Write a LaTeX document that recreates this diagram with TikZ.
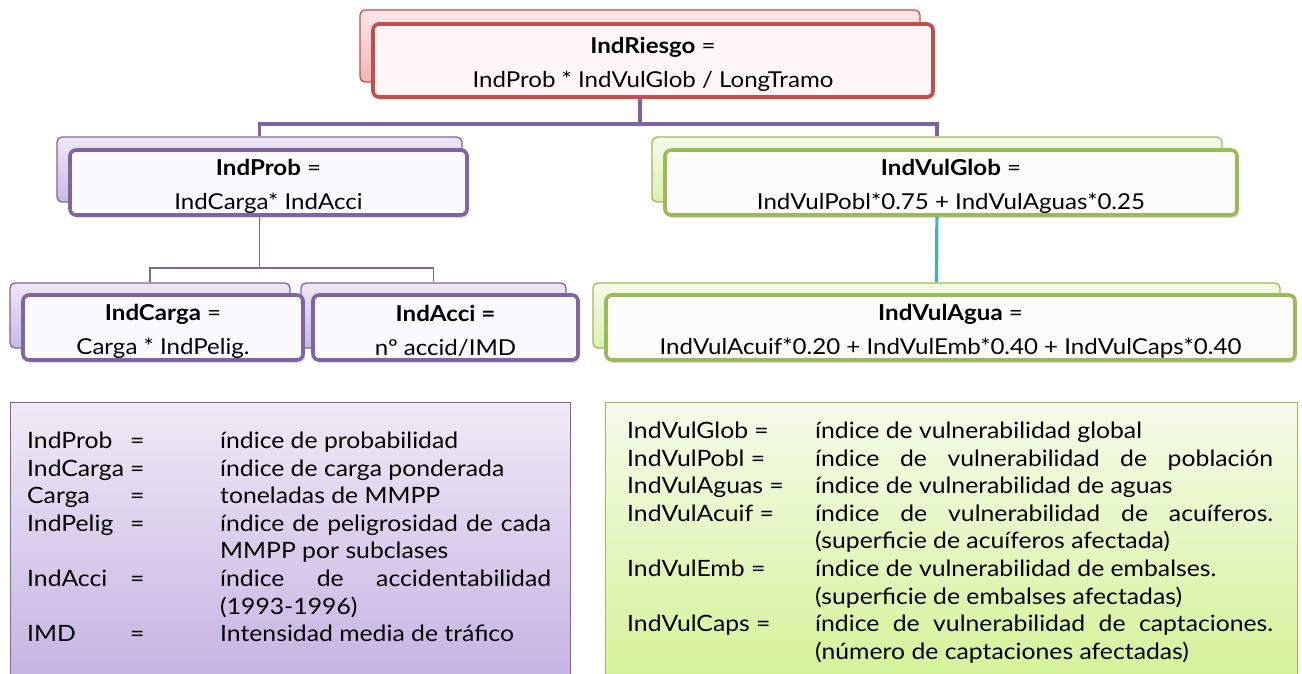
\documentclass[tikz,border=0pt]{standalone}
\usepackage{fontspec}
\setmainfont{Lato}[FakeStretch=1.1]
\usetikzlibrary{shadows,backgrounds}
\definecolor{redb}{HTML}{C0504D}
\definecolor{purb}{HTML}{8064A2}
\definecolor{grnb}{HTML}{9BBB59}
\definecolor{tealc}{HTML}{4BACC6}
\definecolor{rtop}{HTML}{FCE8E8}
\definecolor{rbot}{HTML}{F4B4B4}
\definecolor{ptop}{HTML}{EEE8F6}
\definecolor{pbot}{HTML}{C9B9E2}
\definecolor{gtop}{HTML}{F4FAE8}
\definecolor{gbot}{HTML}{DCF0B4}
\definecolor{lltop}{HTML}{EFEAF6}
\definecolor{llbot}{HTML}{C6B4E2}
\definecolor{lrtop}{HTML}{F5FBEB}
\definecolor{lrbot}{HTML}{D5F298}
\newcommand{\topstrut}{\rule{0pt}{23.5pt}}
\tikzset{
  backbox/.style={draw, line width=1.3pt, rounded corners=5pt},
  backR/.style={backbox, draw=redb, top color=rtop, bottom color=rbot},
  backP/.style={backbox, draw=purb, top color=ptop, bottom color=pbot},
  backG/.style={backbox, draw=grnb, top color=gtop, bottom color=gbot},
  frontbox/.style={draw, line width=3.6pt, rounded corners=6pt, align=center,
    font=\fontsize{21.9}{34}\selectfont, inner sep=0pt,
    drop shadow={opacity=0.25, shadow xshift=2pt, shadow yshift=-3pt}},
  frontR/.style={frontbox, draw=redb, fill=red!3!white},
  frontP/.style={frontbox, draw=purb, fill=purb!3!white},
  frontG/.style={frontbox, draw=grnb, fill=grnb!3!white},
  conn/.style={draw=purb, line width=3.2pt},
  connthin/.style={draw=purb, line width=1.6pt},
  conntl/.style={draw=tealc, line width=3.2pt},
  legL/.style={draw=purb, line width=1pt, top color=lltop, bottom color=llbot},
  legR/.style={draw=grnb, line width=1pt, top color=lrtop, bottom color=lrbot},
  legtext/.style={anchor=north west, inner sep=0pt, font=\fontsize{22.5}{27.6}\selectfont}
}
\begin{document}
\begin{tikzpicture}[x=1pt,y=-1pt]
\useasboundingbox (0,0) rectangle (1302,673);
% back boxes
\node[backR, minimum width=560pt, minimum height=72pt] (riskB) at (640,46) {};
\node[backP, minimum width=405pt, minimum height=65pt] (probB) at (259.5,169.5) {};
\node[backG, minimum width=570pt, minimum height=65pt] (globB) at (937,169.5) {};
\node[backP, minimum width=280pt, minimum height=65pt] (cargaB) at (150,315.5) {};
\node[backP, minimum width=265pt, minimum height=65pt] (acciB) at (433.5,315.5) {};
\node[backG, minimum width=687pt, minimum height=65pt] (aguaB) at (936.5,315.5) {};
% front boxes
\node[frontR, minimum width=560pt, minimum height=73pt] (risk) at (653,60.5)
  {\topstrut\textbf{IndRiesgo} =\\IndProb * IndVulGlob / LongTramo};
\node[frontP, minimum width=397pt, minimum height=65pt] (prob) at (268.5,182.5)
  {\topstrut\textbf{IndProb} =\\IndCarga* IndAcci};
\node[frontG, minimum width=572pt, minimum height=65pt] (glob) at (951,182.5)
  {\topstrut\textbf{IndVulGlob} =\\IndVulPobl*0.75 + IndVulAguas*0.25};
\node[frontP, minimum width=280pt, minimum height=65pt] (carga) at (163,327.5)
  {\topstrut\textbf{IndCarga} =\\Carga * IndPelig.};
\node[frontP, minimum width=265pt, minimum height=65pt] (acci) at (445.5,327.5)
  {\topstrut\textbf{IndAcci =}\\nº accid/IMD};
\node[frontG, minimum width=689pt, minimum height=65pt] (agua) at (950.5,327.5)
  {\topstrut\textbf{IndVulAgua} =\\IndVulAcuif*0.20 + IndVulEmb*0.40 + IndVulCaps*0.40};
% connectors
\begin{scope}[on background layer]
\coordinate (hub) at (640,124);
\draw[conn] (riskB.south) -- (hub);
\draw[conn] (hub) -| (probB.north);
\draw[conn] (hub) -| (globB.north);
\coordinate (hub2) at (259.5,268);
\draw[connthin] (probB.south) -- (hub2);
\draw[connthin] (hub2) -| (cargaB.north);
\draw[connthin] (hub2) -| (acciB.north);
\draw[conntl] (globB.south) -- (aguaB.north);
\end{scope}
% legends
\node[legL, minimum width=560pt, minimum height=275pt, anchor=north west] (legLbox) at (10,402) {};
\node[legR, minimum width=692pt, minimum height=275pt, anchor=north west] (legRbox) at (605,402) {};
\node[legtext] (legLt) at (27,429) {%
\begin{tabular}{@{}p{103pt}@{}p{90pt}@{}l@{}}
IndProb & = & índice de probabilidad\\
IndCarga & = & índice de carga ponderada\\
Carga & = & toneladas de MMPP\\
IndPelig & = & \makebox[331pt][s]{índice de peligrosidad de cada}\\
 & & MMPP por subclases\\
IndAcci & = & \makebox[331pt][s]{índice de accidentabilidad}\\
 & & (1993-1996)\\
IMD & = & Intensidad media de tráfico
\end{tabular}};
\node[legtext] (legRt) at (627,419) {%
\begin{tabular}{@{}p{188pt}@{}l@{}}
IndVulGlob = & índice de vulnerabilidad global\\
IndVulPobl = & \makebox[458pt][s]{índice de vulnerabilidad de población}\\
IndVulAguas = & índice de vulnerabilidad de aguas\\
IndVulAcuif = & \makebox[458pt][s]{índice de vulnerabilidad de acuíferos.}\\
 & (superficie de acuíferos afectada)\\
IndVulEmb = & índice de vulnerabilidad de embalses.\\
 & (superficie de embalses afectadas)\\
IndVulCaps = & \makebox[458pt][s]{índice de vulnerabilidad de captaciones.}\\
 & (número de captaciones afectadas)
\end{tabular}};
\end{tikzpicture}
\end{document}
